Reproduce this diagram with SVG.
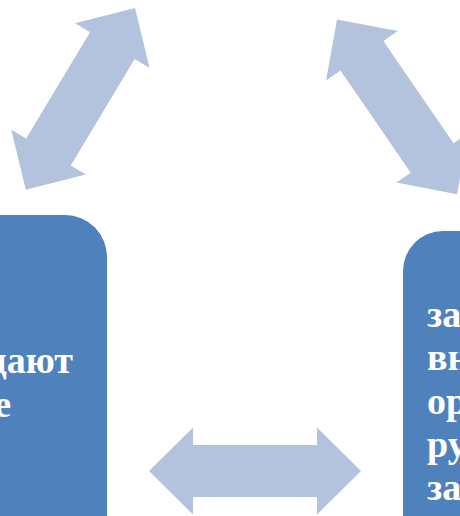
<svg xmlns="http://www.w3.org/2000/svg" width="460" height="516" viewBox="0 0 460 516">
<style>
.box{fill:#4F81BD}
.arr{fill:#B3C3DE}
.t{font-family:"Liberation Serif","Times New Roman",serif;font-weight:bold;font-size:38px;fill:#FFFFFF}
</style>
<defs>
<path id="dbl" d="M0,0 L44,-43.5 L44,-26 L168,-26 L168,-43.5 L212,0 L168,43.5 L168,26 L44,26 L44,43.5 Z"/>
</defs>
<g id="node-left">
<rect class="box" x="-120" y="215" width="227" height="360" rx="42" ry="42"/>
<text class="t" text-anchor="end"><tspan x="73" y="373">дают</tspan><tspan x="11" y="417">е</tspan></text>
</g>
<g id="node-right">
<rect class="box" x="403" y="231" width="200" height="340" rx="40" ry="40"/>
<text class="t"><tspan x="427" y="327">за</tspan><tspan x="427" y="370">вн</tspan><tspan x="427" y="414">ор</tspan><tspan x="427" y="457">ру</tspan><tspan x="427" y="500">за</tspan></text>
</g>
<g id="connectors">
<use href="#dbl" class="arr" transform="translate(135,8) rotate(121)"/>
<use href="#dbl" class="arr" transform="translate(337,19.5) rotate(55.5)"/>
<use href="#dbl" class="arr" transform="translate(149,471)"/>
</g>
</svg>
